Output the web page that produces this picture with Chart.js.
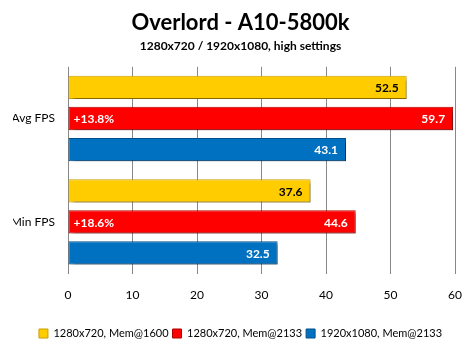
<!DOCTYPE html>
<html>
<head>
<meta charset="utf-8">
<script src="https://cdn.jsdelivr.net/npm/chart.js@4/dist/chart.umd.min.js"></script>
<style>
  html, body { margin: 0; padding: 0; background: #fff; }
  #wrap { width: 476px; height: 351px; }
</style>
</head>
<body>
<div id="wrap"><canvas id="chart"></canvas></div>
<script>
const categories = ["Avg FPS", "Min FPS"];
const seriesNames = ["1280x720, Mem@1600", "1280x720, Mem@2133", "1920x1080, Mem@2133"];
const mem1600 = [52.5, 37.6];
const mem2133 = [59.7, 44.6];
const fullHd = [43.1, 32.5];
const gainLabels = ["+13.8%", "+18.6%"];
const xTicks = [0, 10, 20, 30, 40, 50, 60];

const colors = ["#FFCC00", "#FF0000", "#0070C0"];
const edges = ["#C9A000", "#B00000", "#004F8A"];
const valueColors = ["#000", "#fff", "#fff"];

const FONT = "Lato, 'Open Sans', sans-serif";

const ctx = document.getElementById('chart').getContext("2d");

// drop shadow under the bars
const shadow = {
    id: 'shadow',
    beforeDatasetsDraw(chart) {
        const c = chart.ctx;
        c.save();
        c.shadowColor = 'rgba(0,0,0,0.35)';
        c.shadowOffsetX = 3;
        c.shadowOffsetY = 3;
        c.shadowBlur = 3;
    },
    afterDatasetsDraw(chart) {
        chart.ctx.restore();
    }
};

// value labels at bar ends + gain label on the red bars
const barLabels = {
    id: 'barLabels',
    afterDatasetsDraw(chart) {
        const c = chart.ctx;
        c.save();
        c.font = "bold 12px " + FONT;
        c.textBaseline = 'middle';
        chart.data.datasets.forEach((ds, i) => {
            chart.getDatasetMeta(i).data.forEach((bar, j) => {
                c.fillStyle = valueColors[i];
                c.textAlign = 'right';
                c.fillText(ds.data[j].toFixed(1), bar.x - 8, bar.y + 1);
                if (i === 1) {
                    c.fillStyle = '#fff';
                    c.textAlign = 'left';
                    c.fillText(gainLabels[j], bar.base + 5, bar.y + 1);
                }
            });
        });
        c.restore();
    }
};

new Chart(ctx, {
    type: "bar",
    data: {
        labels: categories,
        datasets: [mem1600, mem2133, fullHd].map((d, i) => ({
            label: seriesNames[i],
            data: d,
            backgroundColor: colors[i],
            borderColor: edges[i],
            borderWidth: 1,
            borderSkipped: false,
            categoryPercentage: 0.9,
            barPercentage: 0.75,
        })),
    },
    options: {
        responsive: true,
        maintainAspectRatio: false,
        animation: false,
        indexAxis: "y",
        layout: { padding: { left: 13, right: 8, top: 0, bottom: 2 } },
        plugins: {
            title: {
                display: true,
                text: "Overlord - A10-5800k",
                color: "#000",
                font: { family: FONT, size: 22, weight: "bold" },
                padding: { top: 10, bottom: 0 },
            },
            subtitle: {
                display: true,
                text: "1280x720 / 1920x1080, high settings",
                color: "#000",
                font: { family: FONT, size: 12, weight: "bold" },
                padding: { top: 3, bottom: 13 },
            },
            legend: {
                position: "bottom",
                labels: {
                    boxWidth: 9,
                    boxHeight: 9,
                    padding: 4,
                    color: "#000",
                    font: { family: FONT, size: 11 },
                },
            },
            tooltip: { enabled: false },
        },
        scales: {
            x: {
                min: 0,
                max: 60,
                afterBuildTicks: (axis) => { axis.ticks = xTicks.map(v => ({ value: v })); },
                afterFit: (axis) => { axis.height += 8; },
                grid: { color: "#888", drawTicks: false },
                border: { display: false },
                ticks: { color: "#000", font: { family: FONT, size: 12 }, padding: 14 },
            },
            y: {
                afterFit: (axis) => { axis.width = 55; },
                grid: { display: false, drawTicks: false },
                border: { display: false },
                ticks: { color: "#000", font: { family: FONT, size: 12 }, padding: 13 },
            },
        },
    },
    plugins: [shadow, barLabels],
});
</script>
</body>
</html>
